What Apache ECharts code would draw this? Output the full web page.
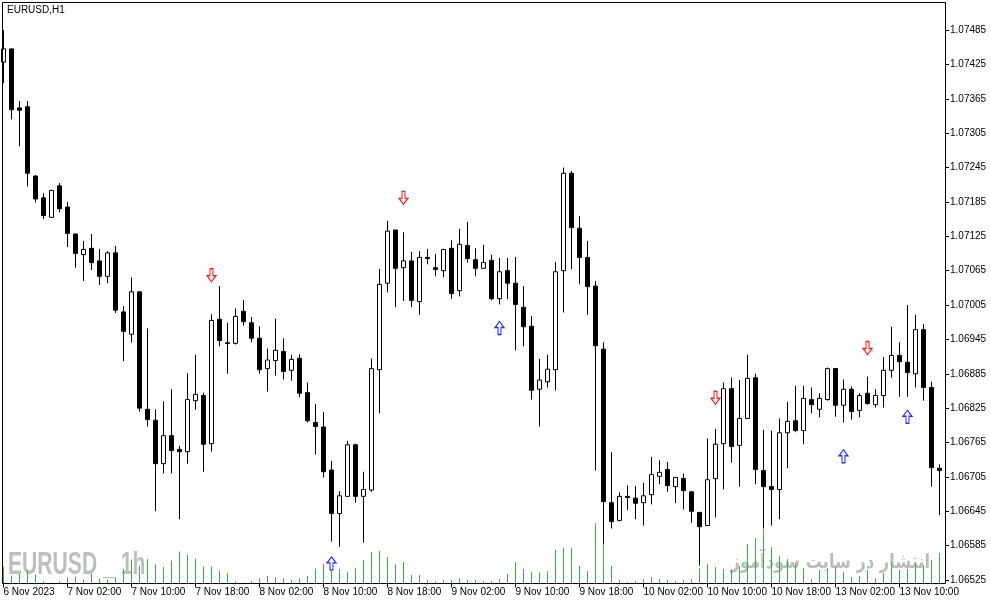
<!DOCTYPE html>
<html dir="ltr"><head><meta charset="utf-8">
<script src="https://cdn.jsdelivr.net/npm/echarts@6/dist/echarts.min.js"></script>
<style>html,body{margin:0;padding:0;background:#fff}#c{width:991px;height:605px}</style>
</head><body><div id="c"></div>
<script>
// ---- categories (hourly bars, 6 Nov 18:00 .. 13 Nov 15:00) ----
const sessions = [['6 Nov',18,23],['7 Nov',0,23],['8 Nov',0,23],['9 Nov',0,23],['10 Nov',0,23],['13 Nov',0,15]];
const firstLabel = '6 Nov 2023';
const categories = [];
sessions.forEach(([d,a,b]) => { for (let h = a; h <= b; h++) categories.push(d + ' ' + String(h).padStart(2,'0') + ':00'); });

// ---- price data ----
const opens = [1.07429,1.07452,1.07349,1.07351,1.07230,1.07192,1.07158,1.07213,1.07176,1.07129,
1.07093,1.07104,1.07082,1.07055,1.07096,1.06993,1.06954,1.07028,1.06823,1.06804,
1.06728,1.06777,1.06753,1.06749,1.06838,1.06847,1.06763,1.06980,1.06939,1.06938,
1.06994,1.06974,1.06947,1.06894,1.06908,1.06924,1.06891,1.06912,1.06852,1.06800,
1.06792,1.06717,1.06641,1.06671,1.06761,1.06671,1.06682,1.06892,1.07043,1.07136,
1.07070,1.07082,1.07011,1.07088,1.07070,1.07065,1.07104,1.07030,1.07109,1.07084,
1.07069,1.07083,1.07016,1.07065,1.07043,1.07001,1.06968,1.06858,1.06871,1.06892,
1.07065,1.07235,1.07139,1.07088,1.07038,1.06928,1.06660,1.06629,1.06671,1.06668,
1.06660,1.06674,1.06706,1.06718,1.06688,1.06702,1.06679,1.06643,1.06620,1.06702,
1.06763,1.06859,1.06760,1.06807,1.06878,1.06716,1.06688,1.06683,1.06782,1.06803,
1.06786,1.06840,1.06823,1.06840,1.06894,1.06830,1.06858,1.06821,1.06851,1.06831,
1.06847,1.06891,1.06917,1.06905,1.06885,1.06962,1.06861,1.06720];
const closes = [1.07452,1.07346,1.07345,1.07235,1.07190,1.07161,1.07205,1.07173,1.07130,1.07095,
1.07102,1.07079,1.07055,1.07096,1.06996,1.06959,1.07028,1.06825,1.06805,1.06728,
1.06777,1.06751,1.06749,1.06840,1.06849,1.06762,1.06978,1.06943,1.06938,1.06985,
1.06976,1.06947,1.06892,1.06909,1.06926,1.06889,1.06910,1.06851,1.06803,1.06793,
1.06714,1.06641,1.06672,1.06761,1.06671,1.06683,1.06894,1.07041,1.07134,1.07069,
1.07082,1.07013,1.07088,1.07086,1.07067,1.07102,1.07025,1.07111,1.07086,1.07069,
1.07079,1.07016,1.07063,1.07043,1.07006,1.06967,1.06856,1.06874,1.06893,1.07063,
1.07235,1.07140,1.07088,1.07037,1.06934,1.06662,1.06627,1.06671,1.06669,1.06659,
1.06672,1.06709,1.06713,1.06690,1.06704,1.06681,1.06645,1.06618,1.06700,1.06762,
1.06859,1.06758,1.06807,1.06877,1.06718,1.06688,1.06683,1.06782,1.06802,1.06786,
1.06842,1.06831,1.06842,1.06894,1.06830,1.06858,1.06819,1.06847,1.06833,1.06847,
1.06891,1.06917,1.06906,1.06887,1.06962,1.06861,1.06721,1.06716];
const lows = [1.07392,1.07329,1.07282,1.07212,1.07184,1.07155,1.07157,1.07167,1.07106,1.07070,
1.07047,1.07066,1.07040,1.07043,1.06991,1.06907,1.06940,1.06819,1.06793,1.06645,
1.06711,1.06711,1.06631,1.06728,1.06822,1.06714,1.06749,1.06933,1.06885,1.06936,
1.06969,1.06940,1.06885,1.06854,1.06882,1.06875,1.06873,1.06844,1.06800,1.06744,
1.06704,1.06592,1.06583,1.06671,1.06660,1.06590,1.06679,1.06816,1.07027,1.07001,
1.07012,1.07001,1.06988,1.07076,1.07055,1.07053,1.07016,1.07020,1.07079,1.07055,
1.07068,1.07013,1.07006,1.07015,1.06926,1.06933,1.06840,1.06793,1.06861,1.06856,
1.06992,1.07067,1.07041,1.06988,1.06716,1.06588,1.06615,1.06627,1.06647,1.06631,
1.06620,1.06657,1.06692,1.06679,1.06659,1.06648,1.06625,1.06550,1.06620,1.06634,
1.06683,1.06730,1.06688,1.06807,1.06692,1.06615,1.06620,1.06631,1.06720,1.06783,
1.06762,1.06816,1.06809,1.06838,1.06810,1.06800,1.06805,1.06809,1.06831,1.06826,
1.06826,1.06878,1.06845,1.06845,1.06861,1.06838,1.06688,1.06638];
const highs = [1.07485,1.07453,1.07361,1.07361,1.07232,1.07200,1.07206,1.07218,1.07185,1.07129,
1.07117,1.07129,1.07103,1.07099,1.07108,1.07003,1.07053,1.07028,1.06964,1.06823,
1.06837,1.06858,1.06759,1.06886,1.06918,1.06852,1.06989,1.07038,1.06974,1.06999,
1.07014,1.06984,1.06968,1.06929,1.06981,1.06947,1.06918,1.06919,1.06870,1.06832,
1.06818,1.06733,1.06680,1.06768,1.06763,1.06714,1.06912,1.07068,1.07152,1.07136,
1.07132,1.07098,1.07099,1.07103,1.07094,1.07103,1.07118,1.07138,1.07150,1.07104,
1.07110,1.07093,1.07087,1.07087,1.07089,1.07038,1.06986,1.06911,1.06918,1.07080,
1.07245,1.07239,1.07160,1.07117,1.07047,1.06940,1.06748,1.06678,1.06690,1.06689,
1.06695,1.06740,1.06734,1.06731,1.06704,1.06711,1.06680,1.06644,1.06772,1.06789,
1.06870,1.06878,1.06874,1.06918,1.06885,1.06787,1.06786,1.06807,1.06836,1.06864,
1.06864,1.06861,1.06851,1.06896,1.06895,1.06875,1.06863,1.06851,1.06880,1.06858,
1.06914,1.06967,1.06940,1.07005,1.06988,1.06972,1.06871,1.06727];
const volumes = [1700,800,950,1300,900,200,100,200,600,700,
400,950,500,400,600,1450,2400,1750,2450,1900,
1650,2300,3200,2900,2500,1700,1700,1300,1000,200,
100,250,500,750,650,500,350,500,750,1500,
1950,2400,1450,1150,1550,2350,3150,3250,2650,1900,
2150,850,850,350,200,350,350,550,350,350,
250,250,450,950,2150,1450,1150,1100,1250,3350,
3550,3550,1750,1250,6050,4000,1750,350,150,250,
450,650,450,350,250,350,450,1550,1950,1650,
1450,1450,1750,3950,4550,5450,3650,2750,2450,2050,
1550,450,1350,1550,1650,1150,650,750,1350,550,
1050,2150,1350,1450,2050,1850,2350,3050];
// fractal arrows: [bar index, price]
const downArrows = [[26,1.07057],[50,1.07192],[89,1.06843],[108,1.06930]];
const upArrows = [[41,1.06554],[62,1.06965],[105,1.06741],[113,1.06810]];
// price axis tick labels
const yTicks = [1.06525,1.06585,1.06645,1.06705,1.06765,1.06825,1.06885,1.06945,1.07005,
1.07065,1.07125,1.07185,1.07245,1.07305,1.07365,1.07425,1.07485];

const ohlc = opens.map((o,i) => [o, closes[i], lows[i], highs[i]]);
const FONT = 'Liberation Sans';

const chart = echarts.init(document.getElementById('c'), null, {renderer:'canvas'});
chart.setOption({
  animation:false,
  backgroundColor:'#fff',
  title:{text:'EURUSD,H1', left:7, top:5, padding:0,
    textStyle:{fontSize:10, fontWeight:'normal', color:'#000', fontFamily:FONT}},
  grid:[
    {left:3.5, right:51.5, top:3, bottom:25},
    {left:3.5, right:51.5, top:3, bottom:21.5}
  ],
  xAxis:[
    {gridIndex:0, type:'category', data:categories, boundaryGap:false, show:false},
    {gridIndex:1, type:'category', data:categories, boundaryGap:false,
      axisLine:{show:false},
      axisTick:{show:true, interval:7, length:4, lineStyle:{color:'#000'}},
      axisLabel:{interval:7, align:'left', margin:4, fontSize:10, color:'#000', fontFamily:FONT,
        formatter:(v,i) => i === 0 ? firstLabel : v},
      splitLine:{show:false}}
  ],
  yAxis:[
    {gridIndex:0, type:'value', position:'right', offset:5.5,
      min:1.06525, max:1.0753213, interval:0.0006, scale:true,
      axisLine:{show:false}, splitLine:{show:false},
      axisTick:{show:true, length:4, lineStyle:{color:'#000'}, customValues:yTicks},
      axisLabel:{customValues:yTicks, margin:5, fontSize:10, color:'#000', fontFamily:FONT,
        formatter:v => Number(v).toFixed(5)}},
    {gridIndex:1, type:'value', min:0, max:58050, show:false}
  ],
  graphic:[
    {type:'text', x:8, y:565, scaleX:0.66, z:0, silent:true,
      style:{text:'EURUSD _ 1h', fontSize:32, fontWeight:'bold', fontFamily:'Liberation Sans', fill:'#bebebe', align:'left', verticalAlign:'middle'}},
    {type:'text', x:930, y:563, scaleX:0.81, z:0, silent:true,
      style:{text:'انتشار در سایت سودآموز', fontSize:20, fontWeight:'bold', fontFamily:'DejaVu Sans', fill:'#bcbcbc', align:'right', verticalAlign:'middle'}},
    {type:'rect', z:100, silent:true, shape:{x:2.5, y:2.5, width:943, height:581},
      style:{fill:'none', stroke:'#000', lineWidth:1}}
  ],
  series:[
    {type:'bar', xAxisIndex:1, yAxisIndex:1, data:volumes, barWidth:1, silent:true, z:1,
      itemStyle:{color:'#2fb82f'}},
    {type:'candlestick', xAxisIndex:0, yAxisIndex:0, data:ohlc, barWidth:4, clip:false, z:3,
      itemStyle:{color:'#fff', color0:'#000', borderColor:'#000', borderColor0:'#000', borderColorDoji:'#000', borderWidth:1}},
    {type:'scatter', xAxisIndex:0, yAxisIndex:0, data:downArrows, z:4, clip:false,
      symbol:'path://M3,0L6,0L6,7L9,7L4.5,13L0,7L3,7Z', symbolSize:[9,13],
      itemStyle:{color:'#fff', borderColor:'#ff1a1a', borderWidth:1.2, opacity:1}},
    {type:'scatter', xAxisIndex:0, yAxisIndex:0, data:upArrows, z:4, clip:false,
      symbol:'path://M4.5,0L9,6L6,6L6,13L3,13L3,6L0,6Z', symbolSize:[9,13],
      itemStyle:{color:'#fff', borderColor:'#2a2aff', borderWidth:1.2, opacity:1}}
  ]
});
</script></body></html>
